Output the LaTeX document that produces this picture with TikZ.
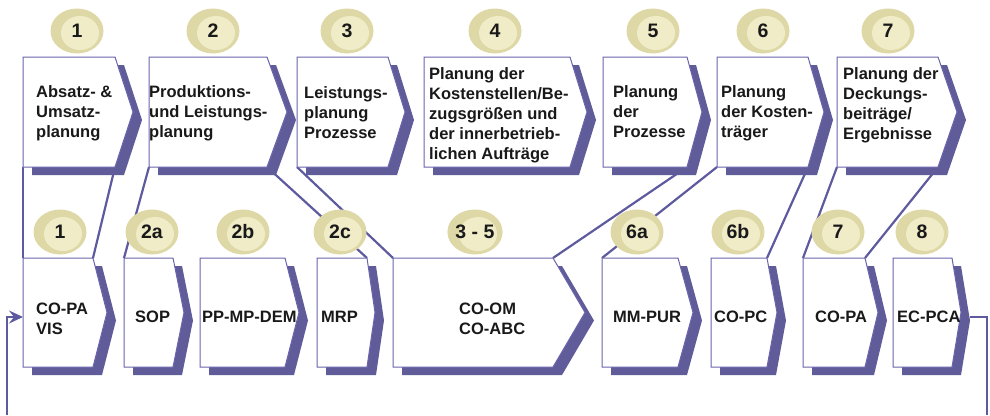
\documentclass[tikz,border=0pt]{standalone}
\usepackage{fontspec}
\setmainfont{Liberation Sans}
\usetikzlibrary{arrows.meta,shapes.geometric}
\definecolor{lineblue}{RGB}{94,90,158}
\definecolor{shadowcol}{RGB}{96,92,154}
\definecolor{edgecol}{RGB}{105,100,172}
\definecolor{circout}{RGB}{222,216,166}
\definecolor{circin}{RGB}{240,236,200}
\definecolor{txt}{RGB}{25,25,25}
\pgfdeclarelayer{bg}
\pgfsetlayers{bg,main}
\tikzset{
  conn/.style={draw=lineblue, line width=2.2pt},
  boxedge/.style={draw=edgecol, line width=1pt, fill=white, line join=miter},
  numc/.style={ellipse, minimum width=53pt, minimum height=45pt, inner sep=0pt, fill=circout,
    font=\fontsize{19.5}{22}\selectfont\bfseries, text=txt,
    path picture={\fill[circin] ([xshift=3pt,yshift=-2pt]path picture bounding box.center) ellipse (19pt and 17pt);}},
  lbl/.style={anchor=base west, inner sep=0pt, text=txt, font=\fontsize{16.5}{20}\selectfont\bfseries},
}
\newcommand\chevbox[6]{%
  \coordinate (#1-tl) at (#2,#5);
  \coordinate (#1-tr) at (#3,#5);
  \coordinate (#1-p) at (#4,{(#5+#6)/2});
  \coordinate (#1-br) at (#3,#6);
  \coordinate (#1-bl) at (#2,#6);
  \fill[shadowcol] ([shift={(9,8)}]#1-tl) -- ([shift={(9,8)}]#1-tr) -- ([shift={(9,8)}]#1-p) -- ([shift={(9,8)}]#1-br) -- ([shift={(9,8)}]#1-bl) -- cycle;
  \draw[boxedge] (#1-tl) -- (#1-tr) -- (#1-p) -- (#1-br) -- (#1-bl) -- cycle;
}
\newcommand\ml[1]{\begin{tabular}[t]{@{}l@{}}#1\end{tabular}}
\begin{document}
\begin{tikzpicture}[x=1pt,y=-1pt]
\useasboundingbox (0,0) rectangle (990,415);
% top row
\chevbox{t1}{23}{115}{133}{57}{167}
\chevbox{t2}{149}{267}{287}{57}{167}
\chevbox{t3}{297}{388}{405}{57}{167}
\chevbox{t4}{424}{570}{587}{57}{167}
\chevbox{t5}{603}{687}{702}{57}{167}
\chevbox{t6}{717}{808}{824}{57}{167}
\chevbox{t7}{837}{938}{957}{57}{167}
% bottom row
\chevbox{b1}{23}{93}{107}{258}{367}
\chevbox{b2a}{124}{173}{184}{258}{367}
\chevbox{b2b}{200}{285}{299}{258}{367}
\chevbox{b2c}{317}{367}{375}{258}{367}
\chevbox{b35}{393}{553}{585}{258}{367}
\chevbox{b6a}{602}{678}{693}{258}{367}
\chevbox{b6b}{711}{767}{777}{258}{367}
\chevbox{b7}{803}{865}{878}{258}{367}
\chevbox{b8}{893}{952}{961}{258}{367}
% connectors behind
\begin{pgfonlayer}{bg}
\draw[conn] (t1-bl) -- (b1-tl);
\draw[conn] (t1-br) -- (b1-tr);
\draw[conn] (t2-bl) -- (b2a-tl);
\draw[conn] (t2-br) -- (b2c-tr);
\draw[conn] (t3-bl) -- (b35-tl);
\draw[conn] (t5-br) -- (b35-tr);
\draw[conn] (t6-bl) -- (b6a-tl);
\draw[conn] (t6-br) -- (b6b-tr);
\draw[conn] (t7-bl) -- (b7-tl);
\draw[conn] (t7-br) -- (b7-tr);
\end{pgfonlayer}
% feedback
\coordinate (fbR) at (987,415);
\coordinate (fbL) at (7,415);
\coordinate (in1) at (23,317);
\draw[conn] ([shift={(9,4.5)}]b8-p) -| (fbR);
\draw[conn, -{Stealth[length=14pt,width=13pt,inset=5pt]}] (fbL) |- (in1);
% circles
\node[numc] (c1) at (77,31) {1};
\node[numc] (c2) at (213,31) {2};
\node[numc] (c3) at (347,31) {3};
\node[numc] (c4) at (495,31) {4};
\node[numc] (c5) at (653,31) {5};
\node[numc] (c6) at (763,31) {6};
\node[numc] (c7) at (888,31) {7};
\node[numc] (d1) at (60,232) {1};
\node[numc] (d2a) at (152,232) {2a};
\node[numc] (d2b) at (243,232) {2b};
\node[numc] (d2c) at (340,232) {2c};
\node[numc] (d35) at (475,232) {3 - 5};
\node[numc] (d6a) at (637,232) {6a};
\node[numc] (d6b) at (738,232) {6b};
\node[numc] (d7) at (838,232) {7};
\node[numc] (d8) at (922,232) {8};
% top texts
\node[lbl] (x1) at (36,97) {\ml{Absatz- \&\\Umsatz-\\planung}};
\node[lbl] (x2) at (149,97) {\ml{Produktions-\\und Leistungs-\\planung}};
\node[lbl] (x3) at (304,98) {\ml{Leistungs-\\planung\\Prozesse}};
\node[lbl] (x4) at (429,79) {\ml{Planung der\\Kostenstellen/Be-\\zugsgrößen und\\der innerbetrieb-\\lichen Aufträge}};
\node[lbl] (x5) at (613,97) {\ml{Planung\\der\\Prozesse}};
\node[lbl] (x6) at (721,97) {\ml{Planung\\der Kosten-\\träger}};
\node[lbl] (x7) at (843,79) {\ml{Planung der\\Deckungs-\\beiträge/\\Ergebnisse}};
% bottom texts
\node[lbl] (y1) at (36,314) {\ml{CO-PA\\VIS}};
\node[lbl] (y2a) at (135,322) {SOP};
\node[lbl] (y2b) at (202,322) {PP-MP-DEM};
\node[lbl] (y2c) at (321,322) {MRP};
\node[lbl] (y35) at (459,314) {\ml{CO-OM\\CO-ABC}};
\node[lbl] (y6a) at (613,322) {MM-PUR};
\node[lbl] (y6b) at (714,322) {CO-PC};
\node[lbl] (y7) at (815,322) {CO-PA};
\node[lbl] (y8) at (897,322) {EC-PCA};
\end{tikzpicture}
\end{document}
